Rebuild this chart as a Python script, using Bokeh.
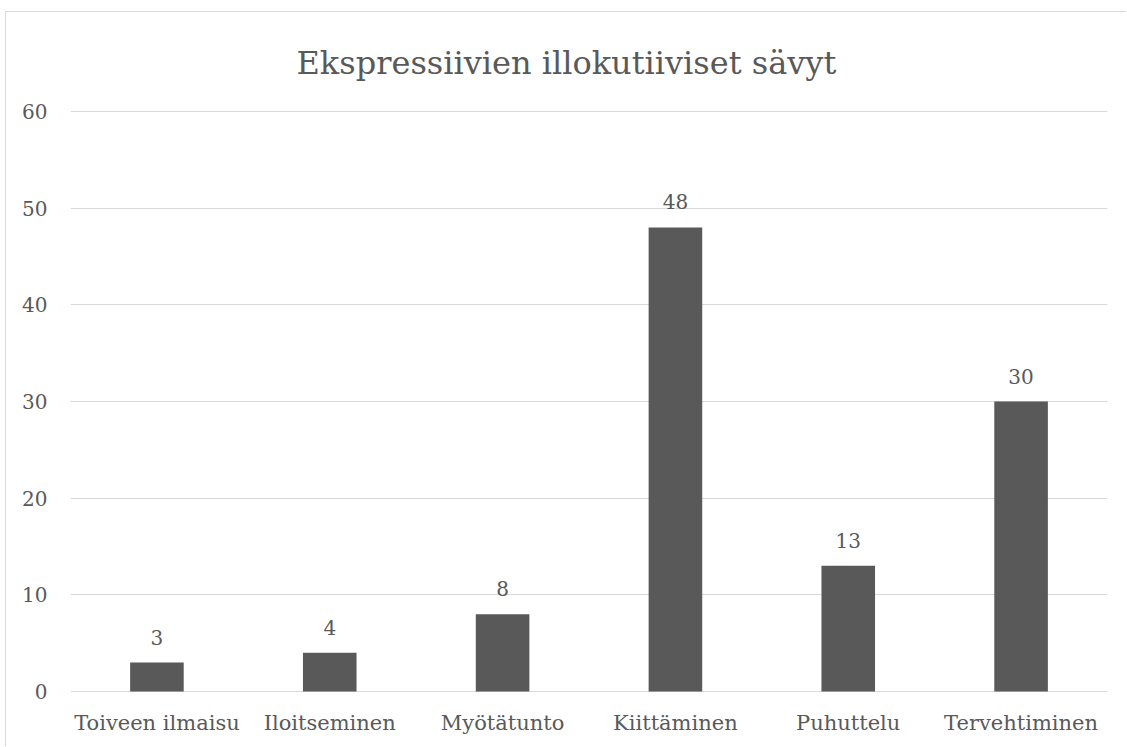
from bokeh.plotting import figure
from bokeh.models import Range1d, FactorRange, ColumnDataSource, Title
from bokeh.embed import file_html
from bokeh.resources import INLINE
from bokeh.core.properties import value

categories = ["Toiveen ilmaisu", "Iloitseminen", "Myötätunto", "Kiittäminen", "Puhuttelu", "Tervehtiminen"]
counts = [3, 4, 8, 48, 13, 30]
y_ticks = [0, 10, 20, 30, 40, 50, 60]
title_text = "Ekspressiivien illokutiiviset sävyt"

FONT = "DejaVu Serif"
TEXT = "#595959"
BAR = "#595959"
GRID = "#d9d9d9"

src = ColumnDataSource(dict(cat=categories, n=counts, lbl=[str(c) for c in counts]))

p = figure(
    x_range=FactorRange(*categories, range_padding=0),
    y_range=Range1d(-0.1, 60.1),  # a hair past 0 and 60 so the edge gridlines stay visible
    width=1121, height=735,
    output_backend="svg", toolbar_location=None,
    min_border_left=64, min_border_right=20, min_border_top=98, min_border_bottom=55,
)
p.styles = {"margin-left": "5px", "margin-top": "11px",
            "border-left": f"1px solid {GRID}", "border-top": f"1px solid {GRID}"}

t = Title(text=title_text, align="left", text_font=FONT, text_font_size="32px",
          text_color=TEXT, text_font_style="normal", standoff=58, offset=226)
p.add_layout(t, "above")

p.vbar(x="cat", top="n", width=0.31, source=src, fill_color=BAR, line_color=None)
p.text(x="cat", y="n", text="lbl", source=src, text_align="center", text_baseline="bottom",
       y_offset=-18, text_font=value(FONT), text_font_size="20px", text_color=TEXT)

p.outline_line_color = None
p.background_fill_color = "white"
p.border_fill_color = "white"
p.xgrid.grid_line_color = None
p.ygrid.grid_line_color = GRID
p.ygrid.grid_line_width = 1

p.yaxis.ticker = y_ticks
for ax in (p.xaxis[0], p.yaxis[0]):
    ax.axis_line_color = None
    ax.major_tick_line_color = None
    ax.minor_tick_line_color = None
    ax.major_label_text_font = FONT
    ax.major_label_text_font_size = "20px"
    ax.major_label_text_color = TEXT
p.xaxis.major_label_text_font_size = "21px"
p.yaxis.major_label_standoff = 17
p.xaxis.major_label_standoff = 12

open("out.html", "w").write(file_html(p, INLINE))
